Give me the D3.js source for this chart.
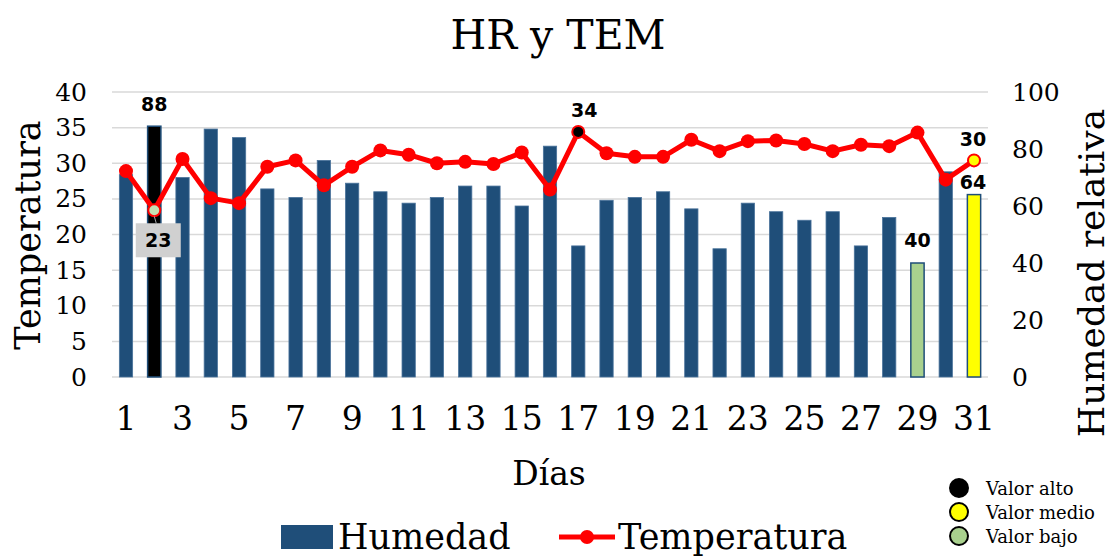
<!DOCTYPE html>
<html>
<head>
<meta charset="utf-8">
<script src="https://cdn.jsdelivr.net/npm/d3@7"></script>
<style>
  html, body { margin: 0; padding: 0; background: #fff; }
  svg { display: block; }
</style>
</head>
<body>
<svg id="chart" width="1114" height="560"></svg>
<script>
// ---- data ----
const dias = d3.range(1, 32);
const humedad = [71, 88, 70, 87, 84, 66, 63, 76, 68, 65, 61, 63, 67, 67, 60, 81, 46, 62, 63, 65, 59, 45, 61, 58, 55, 58, 46, 56, 40, 72, 64];
const temperatura = [28.9, 23.4, 30.6, 25.1, 24.4, 29.5, 30.4, 26.9, 29.5, 31.8, 31.2, 30.0, 30.2, 29.9, 31.5, 26.3, 34.4, 31.4, 30.9, 30.9, 33.3, 31.7, 33.1, 33.2, 32.7, 31.7, 32.6, 32.4, 34.3, 27.7, 30.4];
const xTicks = [1, 3, 5, 7, 9, 11, 13, 15, 17, 19, 21, 23, 25, 27, 29, 31];
const tempTicks = [0, 5, 10, 15, 20, 25, 30, 35, 40];
const humTicks = [0, 20, 40, 60, 80, 100];
const leyendaValores = ["Valor alto", "Valor medio", "Valor bajo"];
// special points (day numbers)
const humAlto = 2, humBajo = 29, humMedio = 31;
const tempAlto = 17, tempBajo = 2, tempMedio = 31;

// ---- styles ----
const SERIF = "'DejaVu Serif', serif";
const SANS = "'DejaVu Sans', Verdana, sans-serif";
const BLUE = "#1f4e79", RED = "#ff0000", GREEN = "#a9d18e", PALEGREEN = "#c5e0b4", YELLOW = "#ffff00";

const svg = d3.select("#chart");

const x = d3.scaleBand().domain(dias).range([112, 988]).paddingInner(0.53).paddingOuter(0.26);
const yL = d3.scaleLinear().domain([0, 40]).range([377, 92]);
const yR = d3.scaleLinear().domain([0, 100]).range([377, 92]);
const cx = d => x(d) + x.bandwidth() / 2;

// title
svg.append("text").attr("x", 558).attr("y", 49).attr("text-anchor", "middle")
  .style("font-family", SERIF).style("font-size", "41px").text("HR y TEM");

// gridlines
svg.append("g").selectAll("line").data(tempTicks).join("line")
  .attr("x1", 112).attr("x2", 988)
  .attr("y1", d => yL(d)).attr("y2", d => yL(d))
  .attr("stroke", "#d9d9d9").attr("stroke-width", 1.5);

// left axis
const gL = svg.append("g").attr("transform", "translate(90,0)")
  .call(d3.axisLeft(yL).tickValues(tempTicks).tickSize(0).tickPadding(3));
gL.select(".domain").remove();
gL.selectAll("text").style("font-family", SERIF).style("font-size", "25px").attr("fill", "#000");

// right axis
const gR = svg.append("g").attr("transform", "translate(1009,0)")
  .call(d3.axisRight(yR).tickValues(humTicks).tickSize(0).tickPadding(3));
gR.select(".domain").remove();
gR.selectAll("text").style("font-family", SERIF).style("font-size", "25px").attr("fill", "#000");

// x axis
const gX = svg.append("g").attr("transform", "translate(0,377)")
  .call(d3.axisBottom(x).tickValues(xTicks).tickSize(0).tickPadding(30));
gX.select(".domain").remove();
gX.selectAll("text").style("font-family", SERIF).style("font-size", "33px").attr("fill", "#000");

// axis titles
svg.append("text").attr("transform", "translate(40,235) rotate(-90)").attr("text-anchor", "middle")
  .style("font-family", SERIF).style("font-size", "35px").text("Temperatura");
svg.append("text").attr("transform", "translate(1104,273) rotate(-90)").attr("text-anchor", "middle")
  .style("font-family", SERIF).style("font-size", "36px").text("Humedad relativa");
svg.append("text").attr("x", 549).attr("y", 485).attr("text-anchor", "middle")
  .style("font-family", SERIF).style("font-size", "33px").text("Días");

// bars
const barFill = d => d === humAlto ? "#000" : d === humBajo ? GREEN : d === humMedio ? YELLOW : BLUE;
const barStroke = d => (d === humAlto || d === humBajo || d === humMedio) ? BLUE : "#4a739b";
svg.append("g").selectAll("rect").data(dias).join("rect")
  .attr("x", d => x(d)).attr("width", x.bandwidth())
  .attr("y", (d, i) => yR(humedad[i])).attr("height", (d, i) => yR(0) - yR(humedad[i]))
  .attr("fill", barFill).attr("stroke", barStroke)
  .attr("stroke-width", d => (d === humBajo || d === humMedio || d === humAlto) ? 1.5 : 0.8);

// line
const line = d3.line().x(d => cx(d)).y((d, i) => yL(temperatura[i]));
svg.append("path").datum(dias).attr("d", line)
  .attr("fill", "none").attr("stroke", RED).attr("stroke-width", 5).attr("stroke-linejoin", "round");

const ptFill = d => d === tempAlto ? "#000" : d === tempBajo ? PALEGREEN : d === tempMedio ? YELLOW : RED;
svg.append("g").selectAll("circle").data(dias).join("circle")
  .attr("cx", d => cx(d)).attr("cy", (d, i) => yL(temperatura[i]))
  .attr("r", d => (d === tempAlto || d === tempBajo || d === tempMedio) ? 6 : 7)
  .attr("fill", ptFill).attr("stroke", RED)
  .attr("stroke-width", d => (d === tempAlto || d === tempBajo || d === tempMedio) ? 2 : 0);

// data labels
const lbl = (xx, yy, t) => svg.append("text").attr("x", xx).attr("y", yy).attr("text-anchor", "middle")
  .style("font-family", SANS).style("font-size", "19px").style("font-weight", "bold").text(t);

const iHA = humAlto - 1, iHB = humBajo - 1, iHM = humMedio - 1;
const iTA = tempAlto - 1, iTB = tempBajo - 1, iTM = tempMedio - 1;
lbl(cx(humAlto), yR(humedad[iHA]) - 15, d3.format(".0f")(humedad[iHA]));
lbl(cx(humBajo), yR(humedad[iHB]) - 16, d3.format(".0f")(humedad[iHB]));
lbl(cx(humMedio) - 1, yR(humedad[iHM]) - 6, d3.format(".0f")(humedad[iHM]));
lbl(cx(tempAlto) + 6, yL(temperatura[iTA]) - 15, d3.format(".0f")(temperatura[iTA]));
lbl(cx(tempMedio) - 1, yL(temperatura[iTM]) - 14, d3.format(".0f")(temperatura[iTM]));

// low temperature label in grey box with leader
const bx = cx(tempBajo) + 4, by = yL(temperatura[iTB]) + 13;
svg.append("line").attr("x1", cx(tempBajo)).attr("y1", yL(temperatura[iTB]) + 6)
  .attr("x2", bx - 2).attr("y2", by).attr("stroke", "#a6a6a6").attr("stroke-width", 1);
svg.append("rect").attr("x", bx - 22.5).attr("y", by).attr("width", 45).attr("height", 34).attr("fill", "#d0d0d0");
lbl(bx, by + 24, d3.format(".0f")(temperatura[iTB]));

// bottom legend
svg.append("rect").attr("x", 281).attr("y", 525).attr("width", 52).attr("height", 24).attr("fill", BLUE);
svg.append("text").attr("x", 338).attr("y", 549)
  .style("font-family", SERIF).style("font-size", "35px").text("Humedad");
svg.append("line").attr("x1", 559).attr("x2", 615).attr("y1", 537).attr("y2", 537)
  .attr("stroke", RED).attr("stroke-width", 5);
svg.append("circle").attr("cx", 587).attr("cy", 537).attr("r", 7).attr("fill", RED);
svg.append("text").attr("x", 618).attr("y", 549)
  .style("font-family", SERIF).style("font-size", "35px").text("Temperatura");

// side legend
const sideFill = ["#000", YELLOW, GREEN];
const gS = svg.append("g");
leyendaValores.forEach((t, i) => {
  const yy = 488 + i * 24;
  gS.append("circle").attr("cx", 959).attr("cy", yy).attr("r", 9)
    .attr("fill", sideFill[i]).attr("stroke", "#000").attr("stroke-width", 2);
  gS.append("text").attr("x", 986).attr("y", yy + 7)
    .style("font-family", SERIF).style("font-size", "18px").text(t);
});
</script>
</body>
</html>
